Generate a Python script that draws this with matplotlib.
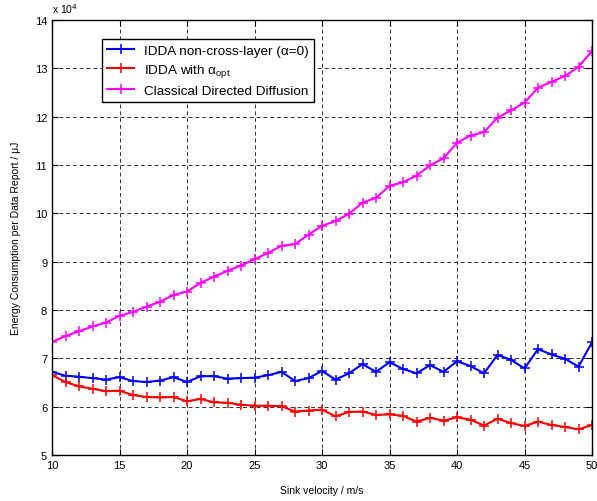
import numpy as np
import matplotlib
matplotlib.use("Agg")
import matplotlib.pyplot as plt

plt.rcParams['font.family'] = ['Liberation Sans', 'DejaVu Sans']

# sink velocity (m/s)
velocity = list(range(10, 51))

# energy per data report, x 10^4 uJ
idda_noncross = [6.72, 6.64, 6.62, 6.59, 6.56, 6.61, 6.53, 6.51, 6.54, 6.61,
                 6.51, 6.63, 6.63, 6.58, 6.59, 6.60, 6.65, 6.72, 6.53, 6.59,
                 6.74, 6.56, 6.69, 6.88, 6.72, 6.92, 6.78, 6.69, 6.86, 6.72,
                 6.94, 6.84, 6.69, 7.07, 6.97, 6.79, 7.19, 7.08, 6.99, 6.83,
                 7.33]
idda_opt = [6.65, 6.51, 6.42, 6.37, 6.32, 6.33, 6.24, 6.20, 6.19, 6.20,
            6.11, 6.16, 6.09, 6.08, 6.04, 6.02, 6.02, 6.01, 5.90, 5.92,
            5.94, 5.80, 5.89, 5.90, 5.83, 5.84, 5.81, 5.69, 5.77, 5.71,
            5.78, 5.73, 5.61, 5.75, 5.66, 5.60, 5.69, 5.62, 5.58, 5.53,
            5.62]
classical_dd = [7.34, 7.46, 7.56, 7.66, 7.74, 7.88, 7.96, 8.07, 8.17, 8.31,
                8.38, 8.56, 8.69, 8.81, 8.92, 9.05, 9.18, 9.33, 9.36, 9.56,
                9.74, 9.84, 9.99, 10.22, 10.32, 10.57, 10.64, 10.78, 10.99, 11.14,
                11.46, 11.61, 11.68, 11.98, 12.13, 12.29, 12.60, 12.72, 12.84, 13.03,
                13.36]

fig = plt.figure(figsize=(5.97, 5.02), dpi=100)
ax = fig.add_axes([52/597, 1 - 456/502, 540/597, 435/502])

ax.plot(velocity, idda_noncross, color='#0000ff', marker='+', ms=6.5, mew=1.1, lw=1.5,
        label='IDDA non-cross-layer (\u03b1=0)')
ax.plot(velocity, idda_opt, color='#ff0000', marker='+', ms=6.5, mew=1.1, lw=1.5,
        label='IDDA with \u03b1$_{\\mathregular{opt}}$')
ax.plot(velocity, classical_dd, color='#ff00ff', marker='+', ms=6.5, mew=1.1, lw=1.5,
        label='Classical Directed Diffusion')

ax.set_xlim(10, 50)
ax.set_ylim(5, 14)
ax.set_xticks(range(10, 51, 5))
ax.set_yticks(range(5, 15))
ax.grid(True, color='black', linestyle=(0, (4, 3)), linewidth=0.7, alpha=0.8)
ax.tick_params(direction='in', top=True, right=True, labelsize=8, length=4)
for s in ax.spines.values():
    s.set_linewidth(1.0)

ax.set_xlabel('Sink velocity / m/s', fontsize=7.5, labelpad=11)
ax.set_ylabel('Energy Consumption per Data Report / \u03bcJ', fontsize=7.5, labelpad=10)
ax.text(0.0, 1.012, r'x 10$^4$', transform=ax.transAxes, fontsize=7.5, ha='left', va='bottom')

leg = ax.legend(loc='upper left', bbox_to_anchor=(50/540, 1 - 19/435), fontsize=9.7,
                fancybox=False, framealpha=1, edgecolor='black', borderaxespad=0,
                handlelength=2.0, handletextpad=0.7, labelspacing=0.4, borderpad=0.4)
leg.get_frame().set_linewidth(1.0)

fig.savefig('out.png', dpi=100)
